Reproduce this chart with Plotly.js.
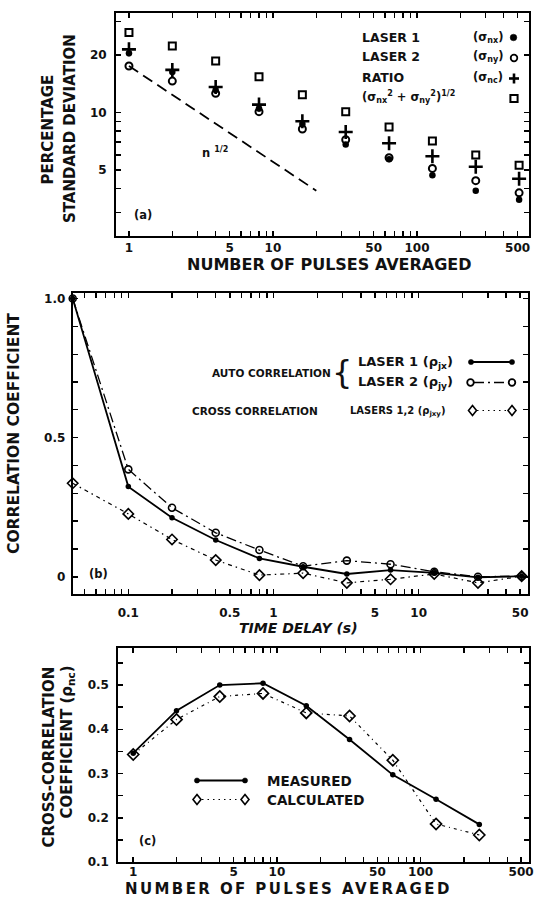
<!DOCTYPE html>
<html>
<head>
<meta charset="utf-8">
<script src="https://cdn.plot.ly/plotly-3.0.1.min.js"></script>
<style>
  html, body { margin: 0; padding: 0; background: #fff; }
  #chart { width: 535px; height: 898px; }
  /* wide tracking on the bottom axis title of panel (c) */
  .annotation[data-index="1"] text { letter-spacing: 2.4px; }
</style>
</head>
<body>
<div id="chart"></div>
<script>
// ---- panel (a): percentage standard deviation vs number of pulses averaged ----
const pulses       = [1, 2, 4, 8, 16, 32, 64, 128, 256, 512];
const sigmaLaser1  = [20.4, 16.3, 13.1, 10.5, 8.7, 6.8, 5.7, 4.7, 3.9, 3.5];
const sigmaLaser2  = [17.5, 14.6, 12.6, 10.1, 8.2, 7.2, 5.8, 5.1, 4.4, 3.8];
const sigmaRatio   = [21.4, 16.7, 13.6, 11.0, 9.0, 7.9, 6.9, 5.9, 5.2, 4.5];
const sigmaQuad    = [26.2, 22.3, 18.6, 15.4, 12.4, 10.1, 8.4, 7.1, 6.0, 5.3];
// n^-1/2 reference line end points
const refPulses    = [1, 20];
const refSigma     = [17.5, 3.9];

// ---- panel (b): correlation coefficient vs time delay ----
const lagSeconds   = [0, 0.1, 0.2, 0.4, 0.8, 1.6, 3.2, 6.4, 12.8, 25.6, 51.2];
const rhoLaser1    = [1.0, 0.324, 0.212, 0.132, 0.066, 0.036, 0.010, 0.024, 0.014, -0.002, 0.002];
const rhoLaser2    = [1.0, 0.386, 0.248, 0.158, 0.096, 0.038, 0.058, 0.045, 0.018, 0.000, 0.002];
const rhoCross     = [0.336, 0.226, 0.134, 0.060, 0.006, 0.013, -0.022, -0.009, 0.010, -0.022, 0.002];

// ---- panel (c): cross-correlation coefficient vs number of pulses averaged ----
const pulsesC       = [1, 2, 4, 8, 16, 32, 64, 128, 256];
const rhoMeasured   = [0.346, 0.442, 0.500, 0.504, 0.453, 0.377, 0.297, 0.242, 0.185];
const rhoCalculated = [0.343, 0.422, 0.474, 0.481, 0.437, 0.430, 0.330, 0.186, 0.161];

// ---- ticks: labelled values and unlabelled minor positions ----
const pulseTickVals   = [1, 5, 10, 50, 100, 500];
const pulseTickLabels = ['1', '5', '10', '50', '100', '500'];
const pulseMinorVals  = [2,3,4,6,7,8,9,20,30,40,60,70,80,90,200,300,400];
const sigmaTickVals   = [5, 10, 20];
const sigmaTickLabels = ['5', '10', '20'];
const sigmaMinorVals  = [3,4,6,7,8,9,30];
const lagTickVals     = [0.1, 0.5, 1, 5, 10, 50];
const lagTickLabels   = ['0.1', '0.5', '1', '5', '10', '50'];
const lagMinorVals    = [0.05,0.06,0.07,0.08,0.09,0.2,0.3,0.4,0.6,0.7,0.8,0.9,2,3,4,6,7,8,9,20,30,40];
const rhoTickVals     = [0, 0.5, 1.0];
const rhoTickLabels   = ['0', '0.5', '1.0'];
const rhoMinorVals    = [0.1,0.2,0.3,0.4,0.6,0.7,0.8,0.9];
const rhoCTickVals    = [0.1, 0.2, 0.3, 0.4, 0.5];
const rhoCTickLabels  = ['0.1', '0.2', '0.3', '0.4', '0.5'];
const rhoCMinorVals   = [0.15,0.25,0.35,0.45,0.55];

const W = 535, H = 898;
const FONT = 'DejaVu Sans, Arial, sans-serif';
const INK = '#111';

const px = p => p / W;          // page x pixel -> paper
const py = p => 1 - p / H;      // page y pixel -> paper

const sigmaRange = [0.354, 1.522];
const lagRange = [-1.383, 1.753];
const lagAxisMin = Math.pow(10, lagRange[0]);   // zero delay sits on the left axis
const lagX = lagSeconds.map(t => t > 0 ? t : lagAxisMin);

function axisBase(vals, labels, minorVals, extra) {
  return Object.assign({
    showline: true, linewidth: 2, linecolor: '#000', mirror: 'ticks',
    ticks: 'inside', ticklen: 5, tickwidth: 1.5, tickcolor: '#000',
    tickmode: 'array', tickvals: vals, ticktext: labels,
    minor: { tickmode: 'array', tickvals: minorVals, ticks: 'inside', ticklen: 5,
             tickwidth: 1.3, tickcolor: '#000', showgrid: false },
    showgrid: false, zeroline: false, fixedrange: true,
    tickfont: { family: FONT, size: 12, weight: 700, color: INK }
  }, extra);
}

const traces = [
  // (a)
  { x: refPulses, y: refSigma, xaxis: 'x', yaxis: 'y', mode: 'lines',
    line: { color: '#000', width: 1.8, dash: '11px,6px' }, hoverinfo: 'skip' },
  { x: pulses, y: sigmaQuad, xaxis: 'x', yaxis: 'y', mode: 'markers', name: '(σnx² + σny²)^1/2',
    marker: { symbol: 'square-open', size: 7, color: '#000', line: { width: 2, color: '#000' } } },
  { x: pulses, y: sigmaLaser2, xaxis: 'x', yaxis: 'y', mode: 'markers', name: 'LASER 2',
    marker: { symbol: 'circle-open', size: 7, color: '#000', line: { width: 2, color: '#000' } } },
  { x: pulses, y: sigmaLaser1, xaxis: 'x', yaxis: 'y', mode: 'markers', name: 'LASER 1',
    marker: { symbol: 'circle', size: 6.5, color: '#000' } },
  { x: pulses, y: sigmaRatio, xaxis: 'x', yaxis: 'y', mode: 'markers', name: 'RATIO',
    marker: { symbol: 'cross-thin-open', size: 10, color: '#000', line: { width: 2.6, color: '#000' } } },
  // (b)
  { x: lagX, y: rhoCross, xaxis: 'x2', yaxis: 'y2', mode: 'lines+markers', name: 'LASERS 1,2',
    line: { color: '#000', width: 1.2, dash: '4px,4px,1.5px,4px' },
    marker: { symbol: 'diamond-open', size: 8, color: '#000', line: { width: 1.6, color: '#000' } } },
  { x: lagX, y: rhoLaser2, xaxis: 'x2', yaxis: 'y2', mode: 'lines+markers', name: 'LASER 2',
    line: { color: '#000', width: 1.3, dash: '10px,4px,2px,4px' },
    marker: { symbol: 'circle-open', size: 7, color: '#000', line: { width: 1.6, color: '#000' } } },
  { x: lagX, y: rhoLaser1, xaxis: 'x2', yaxis: 'y2', mode: 'lines+markers', name: 'LASER 1',
    line: { color: '#000', width: 1.8 },
    marker: { symbol: 'circle', size: 5.5, color: '#000' } },
  // (c)
  { x: pulsesC, y: rhoCalculated, xaxis: 'x3', yaxis: 'y3', mode: 'lines+markers', name: 'CALCULATED',
    line: { color: '#000', width: 1.2, dash: '3px,4px,1px,4px' },
    marker: { symbol: 'diamond-open', size: 8.5, color: '#000', line: { width: 1.7, color: '#000' } } },
  { x: pulsesC, y: rhoMeasured, xaxis: 'x3', yaxis: 'y3', mode: 'lines+markers', name: 'MEASURED',
    line: { color: '#000', width: 1.8 },
    marker: { symbol: 'circle', size: 5.5, color: '#000' } }
];
traces.forEach(t => { t.cliponaxis = false; t.showlegend = false; });

function note(text, x, y, o) {
  o = o || {};
  return {
    text: text, xref: 'paper', yref: 'paper', x: px(x), y: py(y),
    xanchor: o.xanchor || 'center', yanchor: 'middle', showarrow: false,
    textangle: o.angle || 0, align: o.xanchor === 'left' ? 'left' : 'center',
    font: { family: FONT, size: o.size || 12, weight: o.weight || 700,
            style: o.style || 'normal', color: INK }
  };
}

const annotations = [
  note('NUMBER OF PULSES AVERAGED', 329, 264, { size: 16 }),            // 0
  note('NUMBER OF PULSES AVERAGED', 288, 888.5, { size: 15 }),          // 1
  note('TIME DELAY (s)', 298, 628, { size: 14, style: 'italic' }),      // 2
  note('PERCENTAGE', 47, 129.5, { size: 15, angle: -90 }),
  note('STANDARD DEVIATION', 70, 129, { size: 15, angle: -90 }),
  note('CORRELATION COEFFICIENT', 14, 434, { size: 15.5, angle: -90 }),
  note('CROSS-CORRELATION', 48, 756.5, { size: 15, angle: -90 }),
  note('COEFFICIENT (ρ<sub>nc</sub>)', 66.5, 742, { size: 15, angle: -90 }),
  // panel tags
  note('(a)', 143, 215, { size: 11.5 }),
  note('(b)', 98, 574, { size: 11.5 }),
  note('(c)', 147, 841, { size: 11.5 }),
  note('n <sup>1/2</sup>', 200, 152, { size: 11.5, xanchor: 'left' }),
  // legend (a)
  note('LASER 1', 360, 37, { size: 12.5, xanchor: 'left' }),
  note('LASER 2', 360, 57, { size: 12.5, xanchor: 'left' }),
  note('RATIO', 360, 77, { size: 12.5, xanchor: 'left' }),
  note('(σ<sub>nx</sub><sup>2</sup> + σ<sub>ny</sub><sup>2</sup>)<sup>1/2</sup>', 360, 97, { size: 11.5, xanchor: 'left' }),
  note('(σ<sub>nx</sub>)', 471, 37, { size: 11.5, xanchor: 'left' }),
  note('(σ<sub>ny</sub>)', 471, 57, { size: 11.5, xanchor: 'left' }),
  note('(σ<sub>nc</sub>)', 471, 77, { size: 11.5, xanchor: 'left' }),
  // legend (b)
  note('AUTO CORRELATION', 210, 373, { size: 10.5, xanchor: 'left' }),
  note('{', 342, 372, { size: 32, weight: 400 }),
  note('LASER 1 (ρ<sub>jx</sub>)', 356, 362.5, { size: 13, xanchor: 'left' }),
  note('LASER 2 (ρ<sub>jy</sub>)', 356, 382.5, { size: 13, xanchor: 'left' }),
  note('CROSS CORRELATION', 190, 411, { size: 10.5, xanchor: 'left' }),
  note('LASERS 1,2 (ρ<sub>jxy</sub>)', 348, 411, { size: 10, xanchor: 'left' }),
  // legend (c)
  note('MEASURED', 265, 780.5, { size: 13.5, xanchor: 'left' }),
  note('CALCULATED', 265, 799.5, { size: 13.5, xanchor: 'left' })
];

// legend keys
function keyLine(x0, x1, y, width, dash) {
  return { type: 'line', xref: 'paper', yref: 'paper', x0: px(x0), x1: px(x1), y0: py(y), y1: py(y),
           line: { color: '#000', width: width, dash: dash || 'solid' } };
}
function keyCircle(cx, cy, r, filled) {
  return { type: 'circle', xref: 'paper', yref: 'paper',
           x0: px(cx - r), x1: px(cx + r), y0: py(cy + r), y1: py(cy - r),
           fillcolor: filled ? '#000' : '#fff', line: { color: '#000', width: filled ? 0.5 : 1.8 } };
}
function keySquare(cx, cy, h) {
  return { type: 'rect', xref: 'paper', yref: 'paper',
           x0: px(cx - h), x1: px(cx + h), y0: py(cy + h), y1: py(cy - h),
           fillcolor: '#fff', line: { color: '#000', width: 2 } };
}
function keyPlus(cx, cy, a) {
  return [keyLine(cx - a, cx + a, cy, 2.6),
          { type: 'line', xref: 'paper', yref: 'paper', x0: px(cx), x1: px(cx), y0: py(cy - a), y1: py(cy + a),
            line: { color: '#000', width: 2.6 } }];
}
function keyDiamond(cx, cy, hw, hh) {
  const p = (x, y) => px(x) + ',' + py(y);
  return { type: 'path', xref: 'paper', yref: 'paper',
           path: 'M' + p(cx, cy - hh) + ' L' + p(cx + hw, cy) + ' L' + p(cx, cy + hh) + ' L' + p(cx - hw, cy) + ' Z',
           fillcolor: '#fff', line: { color: '#000', width: 1.6 } };
}

const shapes = [
  keyCircle(513.5, 37.5, 3.3, true),
  keyCircle(514, 58, 3.3, false),
  ...keyPlus(514, 78.5, 5),
  keySquare(514, 98.5, 3.6),
  keyLine(471, 512, 362, 1.8),
  keyCircle(471, 362, 2.6, true),
  keyCircle(512, 362, 2.6, true),
  keyLine(474, 509, 382.5, 1.3, '10px,4px,2px,4px'),
  keyCircle(470.5, 382.5, 3.3, false),
  keyCircle(512, 382.5, 3.3, false),
  keyLine(477, 507, 410.5, 1.2, '1.5px,4px'),
  keyDiamond(472.5, 410.5, 4, 5),
  keyDiamond(512, 410.5, 4, 5),
  keyLine(197, 245, 780.5, 1.8),
  keyCircle(197, 780.5, 2.6, true),
  keyCircle(245, 780.5, 2.6, true),
  keyLine(202, 240, 799.5, 1.2, '1.5px,4px'),
  keyDiamond(197, 799.5, 4, 5),
  keyDiamond(245, 799.5, 4, 5)
];

const layout = {
  width: W, height: H,
  margin: { l: 0, r: 0, t: 0, b: 0 },
  paper_bgcolor: '#fff', plot_bgcolor: '#fff',
  showlegend: false,
  font: { family: FONT, color: INK },
  xaxis: axisBase(pulseTickVals, pulseTickLabels, pulseMinorVals,
    { domain: [px(116), px(529)], anchor: 'y', type: 'log', range: [-0.09, 2.778], ticklabelstandoff: 0 }),
  yaxis: axisBase(sigmaTickVals, sigmaTickLabels, sigmaMinorVals,
    { domain: [py(236), py(12.7)], anchor: 'x', type: 'log', range: sigmaRange, ticklabelstandoff: 5 }),
  xaxis2: axisBase(lagTickVals, lagTickLabels, lagMinorVals,
    { domain: [px(72.7), px(528)], anchor: 'y2', type: 'log', range: lagRange, ticklabelstandoff: 7 }),
  yaxis2: axisBase(rhoTickVals, rhoTickLabels, rhoMinorVals,
    { domain: [py(594), py(293)], anchor: 'x2', range: [-0.062, 1.02], ticklabelstandoff: 3 }),
  xaxis3: axisBase(pulseTickVals, pulseTickLabels, pulseMinorVals,
    { domain: [px(118.3), px(529)], anchor: 'y3', type: 'log', range: [-0.104, 2.754], ticklabelstandoff: -2 }),
  yaxis3: axisBase(rhoCTickVals, rhoCTickLabels, rhoCMinorVals,
    { domain: [py(862), py(648.3)], anchor: 'x3', range: [0.1, 0.583], ticklabelstandoff: 5 }),
  annotations: annotations,
  shapes: shapes
};

Plotly.newPlot('chart', traces, layout, { staticPlot: true, displayModeBar: false });
</script>
</body>
</html>
